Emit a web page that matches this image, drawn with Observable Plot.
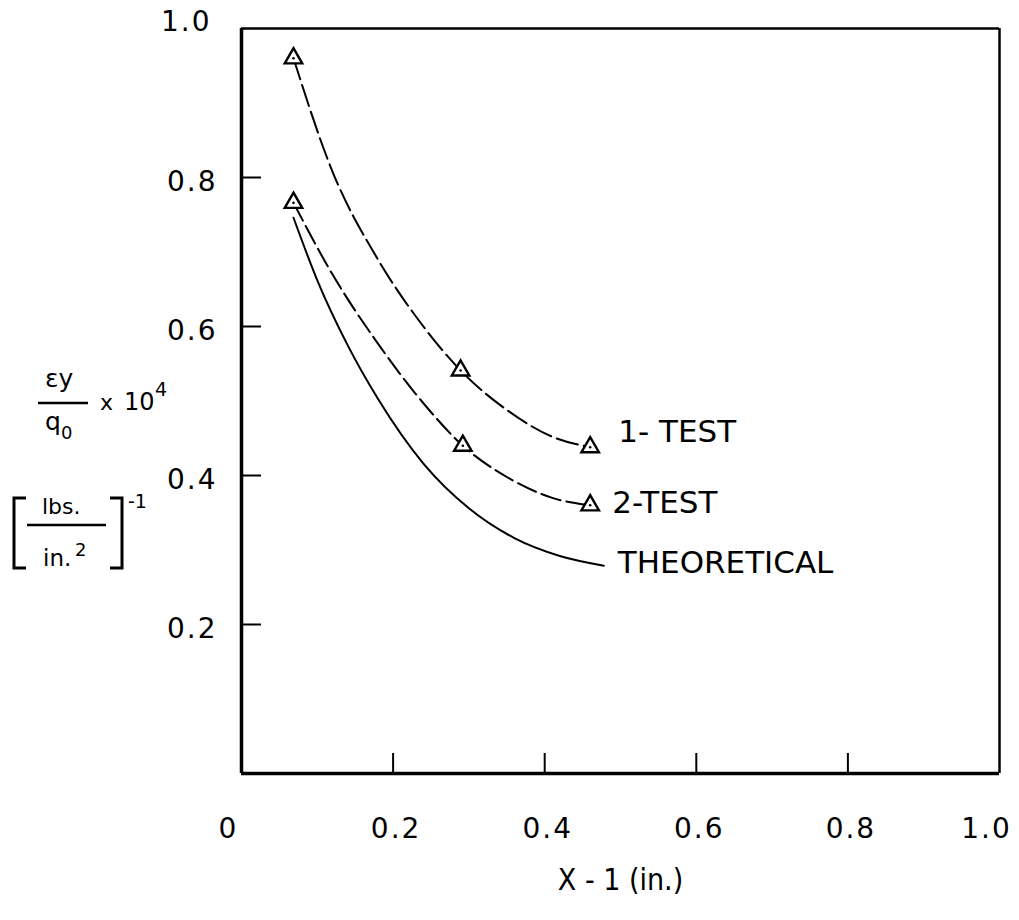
<!DOCTYPE html>
<html>
<head>
<meta charset="utf-8">
<script src="https://cdn.jsdelivr.net/npm/d3@7"></script>
<script src="https://cdn.jsdelivr.net/npm/@observablehq/plot@0.6"></script>
<style>
  html, body { margin: 0; padding: 0; background: #fff; }
  #chart { position: relative; width: 1019px; height: 920px; }
  .ticklab text { letter-spacing: 2px; }
</style>
</head>
<body>
<div id="chart"></div>
<script>
// ---- data ----
const xTickValues = [0.2, 0.4, 0.6, 0.8];
const xTickLabelsInner = [0.2, 0.4, 0.6, 0.8];
const xTickLabelsEnds = [0, 1.0];
const yTickValues = [0.2, 0.4, 0.6, 0.8, 1.0];
const yTickLabelsLower = [0.2, 0.4, 0.6, 0.8];
const yTickLabelsTop = [1.0];

const test1X = [0.0686, 0.12, 0.18, 0.24, 0.289, 0.35, 0.41, 0.460];
const test1Y = [0.960, 0.808, 0.690, 0.600, 0.541, 0.488, 0.452, 0.438];

const test2X = [0.0686, 0.12, 0.18, 0.24, 0.292, 0.35, 0.41, 0.460];
const test2Y = [0.766, 0.670, 0.577, 0.497, 0.440, 0.398, 0.370, 0.360];

const theoX = [0.0686, 0.10, 0.14, 0.18, 0.24, 0.30, 0.36, 0.42, 0.478];
const theoY = [0.746, 0.662, 0.575, 0.503, 0.416, 0.356, 0.316, 0.292, 0.279];

const marker1X = [0.0686, 0.289, 0.460];
const marker1Y = [0.960, 0.541, 0.438];
const marker2X = [0.0686, 0.292, 0.460];
const marker2Y = [0.766, 0.440, 0.360];

const seriesLabels = ["1- TEST", "2-TEST", "THEORETICAL"];
const xAxisLabel = "X - 1 (in.)";

// ---- build ----
const toRows = (xs, ys) => xs.map((x, i) => ({x, y: ys[i]}));
const t1 = toRows(test1X, test1Y);
const t2 = toRows(test2X, test2Y);
const th = toRows(theoX, theoY);
const markers = toRows(marker1X, marker1Y).concat(toRows(marker2X, marker2Y));
const fmt = d => d === 0 ? "0" : d3.format(".1f")(d);
const last = a => a[a.length - 1];

const svg = Plot.plot({
  width: 1019,
  height: 920,
  marginLeft: 241,
  marginRight: 20,
  marginTop: 28,
  marginBottom: 147,
  style: {fontFamily: "DejaVu Sans", fontSize: "28px", background: "#fff", color: "#000"},
  x: {domain: [0, 1], label: null},
  y: {domain: [0, 1], label: null},
  marks: [
    // frame
    Plot.ruleX([0], {stroke: "#000", strokeWidth: 3.5}),
    Plot.ruleY([0], {stroke: "#000", strokeWidth: 3.5}),
    Plot.ruleX([1], {stroke: "#000", strokeWidth: 2.5}),
    Plot.ruleY([1], {stroke: "#000", strokeWidth: 2.5}),
    // inward ticks
    Plot.axisY(yTickValues.slice(0, 4), {tickSize: -20, tickFormat: () => "", strokeWidth: 2}),
    Plot.axisX(xTickValues, {tickSize: -20, tickFormat: () => "", strokeWidth: 2}),
    // tick labels
    Plot.axisY(yTickLabelsLower, {tickSize: 0, tickPadding: 24, tickFormat: fmt, fontSize: 28, dy: 5, fill: "#000", className: "ticklab"}),
    Plot.axisY(yTickLabelsTop, {tickSize: 0, tickPadding: 30, tickFormat: fmt, fontSize: 28, dy: -6, fill: "#000", className: "ticklab"}),
    Plot.axisX(xTickLabelsInner, {tickSize: 0, tickPadding: 45, tickFormat: fmt, fontSize: 28, dx: 3, fill: "#000", className: "ticklab"}),
    Plot.axisX(xTickLabelsEnds, {tickSize: 0, tickPadding: 45, tickFormat: fmt, fontSize: 28, dx: -13, fill: "#000", className: "ticklab"}),
    // curves
    Plot.line(th, {x: "x", y: "y", curve: "monotone-x", stroke: "#000", strokeWidth: 2}),
    Plot.line(t2, {x: "x", y: "y", curve: "monotone-x", stroke: "#000", strokeWidth: 2, strokeDasharray: "20,6"}),
    Plot.line(t1, {x: "x", y: "y", curve: "monotone-x", stroke: "#000", strokeWidth: 2, strokeDasharray: "22,6"}),
    // markers
    Plot.dot(markers, {x: "x", y: "y", symbol: "triangle", r: 6.5, fill: "#fff", stroke: "#000", strokeWidth: 2.4}),
    Plot.dot(markers, {x: "x", y: "y", r: 1.3, fill: "#000"}),
    // series labels
    Plot.text([seriesLabels[0]], {x: [last(test1X)], y: [last(test1Y)], text: d => d, dx: 28, dy: -15, textAnchor: "start", fontSize: 31, fill: "#000"}),
    Plot.text([seriesLabels[1]], {x: [last(test2X)], y: [last(test2Y)], text: d => d, dx: 22, dy: -2, textAnchor: "start", fontSize: 31, fill: "#000"}),
    Plot.text([seriesLabels[2]], {x: [last(theoX)], y: [last(theoY)], text: d => d, dx: 14, dy: -3, textAnchor: "start", fontSize: 31, fill: "#000"}),
    // x axis title
    Plot.text([xAxisLabel], {frameAnchor: "bottom", lineAnchor: "middle", text: d => d, dy: 107, fontSize: 30, fontFamily: "DejaVu Sans Condensed", fill: "#000"})
  ]
});

// y axis title (stacked fraction notation)
const g = d3.select(svg).append("g")
  .attr("font-family", "DejaVu Sans").attr("fill", "#000").attr("text-anchor", "start");
g.append("text").attr("x", 45).attr("y", 387).attr("font-size", 25).text("εy");
g.append("line").attr("x1", 38).attr("x2", 88).attr("y1", 403).attr("y2", 403).attr("stroke", "#000").attr("stroke-width", 2.5);
g.append("text").attr("x", 45).attr("y", 430).attr("font-size", 25).text("q");
g.append("text").attr("x", 61).attr("y", 439).attr("font-size", 18).text("0");
g.append("text").attr("x", 100).attr("y", 410).attr("font-size", 22).text("x");
g.append("text").attr("x", 124).attr("y", 410).attr("font-size", 24).text("10");
g.append("text").attr("x", 155).attr("y", 396).attr("font-size", 19).text("4");
g.append("path").attr("d", "M26,498H14V568H26").attr("fill", "none").attr("stroke", "#000").attr("stroke-width", 3);
g.append("path").attr("d", "M110,498H122V568H110").attr("fill", "none").attr("stroke", "#000").attr("stroke-width", 3);
g.append("text").attr("x", 42).attr("y", 514).attr("font-size", 22).text("lbs.");
g.append("line").attr("x1", 27).attr("x2", 106).attr("y1", 525).attr("y2", 525).attr("stroke", "#000").attr("stroke-width", 2.5);
g.append("text").attr("x", 43).attr("y", 566).attr("font-size", 23).text("in.");
g.append("text").attr("x", 75).attr("y", 556).attr("font-size", 18).text("2");
g.append("text").attr("x", 128).attr("y", 508).attr("font-size", 19).text("-1");

document.getElementById("chart").appendChild(svg);
</script>
</body>
</html>
